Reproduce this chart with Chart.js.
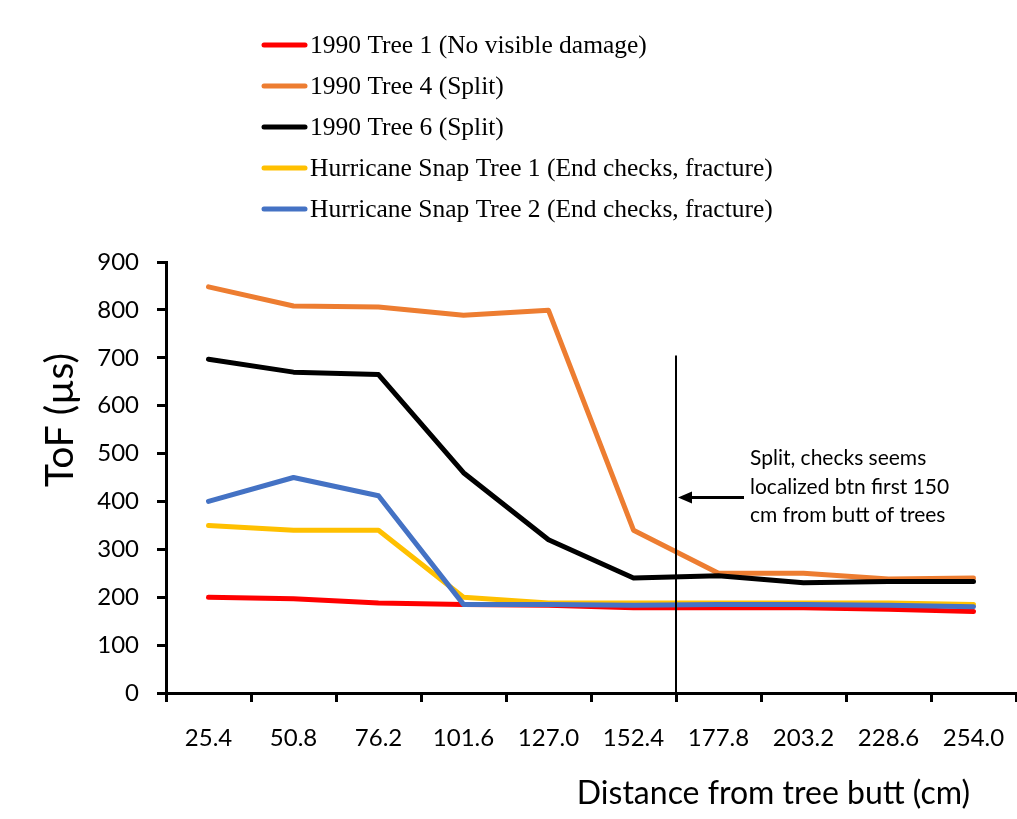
<!DOCTYPE html>
<html>
<head>
<meta charset="utf-8">
<script src="https://cdn.jsdelivr.net/npm/chart.js@4.4.1/dist/chart.umd.min.js"></script>
<style>
    body { margin: 0; background: #fff; }
    #wrap { width: 1017px; height: 819px; position: relative; }
</style>
</head>
<body>
<div id="wrap"><canvas id="tofChart"></canvas></div>
<script>
// Distance from tree butt (cm)
const distances = ['25.4', '50.8', '76.2', '101.6', '127.0', '152.4', '177.8', '203.2', '228.6', '254.0'];

// ToF values (µs) per tree
const tree1990_1 = [200, 197, 188, 185, 183, 178, 178, 178, 175, 170];
const tree1990_4 = [848, 808, 806, 789, 799, 340, 250, 250, 238, 240];
const tree1990_6 = [697, 670, 665, 460, 320, 240, 245, 230, 233, 233];
const snapTree1 = [350, 340, 340, 200, 188, 188, 188, 188, 188, 185];
const snapTree2 = [400, 450, 412, 185, 185, 183, 185, 185, 183, 180];

const seriesLabels = [
    '1990 Tree 1 (No visible damage)',
    '1990 Tree 4 (Split)',
    '1990 Tree 6 (Split)',
    'Hurricane Snap Tree 1 (End checks, fracture)',
    'Hurricane Snap Tree 2 (End checks, fracture)'
];
const seriesColors = ['#ff0000', '#ed7d31', '#000000', '#ffc000', '#4472c4'];

const noteLines = ['Split, checks seems', 'localized btn first 150', 'cm from butt of trees'];

const sansFont = 'Lato, "Open Sans", sans-serif';
const serifFont = '"Liberation Serif", "DejaVu Serif", serif';

// Legend, axis titles and the split annotation
const extrasPlugin = {
    id: 'extras',
    afterDatasetsDraw(chart) {
        const ctx = chart.ctx;
        const xs = chart.scales.x;
        const ys = chart.scales.y;
        ctx.save();

        // annotation line between 152.4 and 177.8
        const lx = (xs.getPixelForValue(5) + xs.getPixelForValue(6)) / 2;
        ctx.strokeStyle = '#000';
        ctx.lineWidth = 2;
        ctx.beginPath();
        ctx.moveTo(lx, ys.getPixelForValue(705));
        ctx.lineTo(lx, ys.getPixelForValue(0));
        ctx.stroke();

        // arrow
        const ay = ys.getPixelForValue(408);
        ctx.lineWidth = 3;
        ctx.beginPath();
        ctx.moveTo(lx + 68, ay);
        ctx.lineTo(lx + 12, ay);
        ctx.stroke();
        ctx.fillStyle = '#000';
        ctx.beginPath();
        ctx.moveTo(lx + 2, ay);
        ctx.lineTo(lx + 16, ay - 6);
        ctx.lineTo(lx + 16, ay + 6);
        ctx.closePath();
        ctx.fill();

        ctx.font = '21px ' + sansFont;
        ctx.textAlign = 'left';
        ctx.textBaseline = 'middle';
        noteLines.forEach((t, i) => {
            ctx.fillText(t, lx + 74, ay - 39 + i * 28.5);
        });

        // y title
        ctx.save();
        ctx.translate(60, 420);
        ctx.rotate(-Math.PI / 2);
        ctx.textAlign = 'center';
        ctx.font = '39px ' + sansFont;
        ctx.fillText('ToF (µs)', 0, 0);
        ctx.restore();

        // x title
        ctx.font = '32px ' + sansFont;
        ctx.textAlign = 'right';
        ctx.fillText('Distance from tree butt (cm)', 970, 794);

        // legend
        ctx.font = '25.5px ' + serifFont;
        ctx.lineCap = 'round';
        chart.data.datasets.forEach((ds, i) => {
            const y = 45 + i * 41;
            ctx.strokeStyle = ds.borderColor;
            ctx.lineWidth = 5;
            ctx.beginPath();
            ctx.moveTo(264, y);
            ctx.lineTo(305, y);
            ctx.stroke();
            ctx.fillStyle = '#000';
            ctx.textAlign = 'left';
            ctx.fillText(ds.label, 310, y + 1);
        });
        ctx.restore();
    }
};

const datasets = [tree1990_1, tree1990_4, tree1990_6, snapTree1, snapTree2].map((vals, i) => ({
    label: seriesLabels[i],
    data: vals,
    borderColor: seriesColors[i],
    backgroundColor: seriesColors[i],
    borderWidth: 5,
    pointRadius: 0,
    tension: 0,
    borderJoinStyle: 'round',
    borderCapStyle: 'round',
    order: 5 - i
}));

new Chart(document.getElementById('tofChart'), {
    type: 'line',
    data: { labels: distances, datasets: datasets },
    options: {
        responsive: true,
        maintainAspectRatio: false,
        animation: false,
        layout: { padding: { top: 262, right: 1, left: 0, bottom: 0 } },
        plugins: {
            legend: { display: false },
            tooltip: { enabled: false }
        },
        scales: {
            x: {
                offset: true,
                grid: {
                    offset: true,
                    drawOnChartArea: false,
                    drawTicks: true,
                    tickLength: 9,
                    color: '#000',
                    lineWidth: 3
                },
                border: { color: '#000', width: 3 },
                ticks: {
                    color: '#000',
                    font: { family: sansFont, size: 24 },
                    padding: 22,
                    maxRotation: 0,
                    autoSkip: false
                },
                afterFit(scale) {
                    scale.height = 126;
                    scale.paddingLeft = 0;
                    scale.paddingRight = 0;
                }
            },
            y: {
                min: 0,
                max: 900,
                grid: {
                    drawOnChartArea: false,
                    drawTicks: true,
                    tickLength: 9,
                    color: '#000',
                    lineWidth: 3
                },
                border: { color: '#000', width: 3 },
                ticks: {
                    stepSize: 100,
                    color: '#000',
                    font: { family: sansFont, size: 24 },
                    padding: 18
                },
                afterFit(scale) { scale.width = 166; }
            }
        }
    },
    plugins: [extrasPlugin]
});
</script>
</body>
</html>
